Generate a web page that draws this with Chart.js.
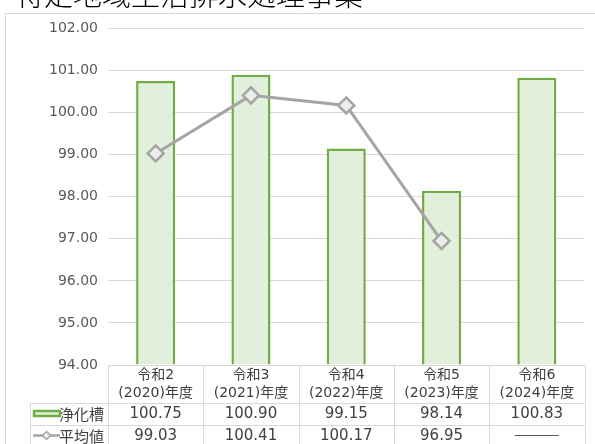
<!DOCTYPE html>
<html lang="ja">
<head>
<meta charset="utf-8">
<script src="https://cdn.jsdelivr.net/npm/chart.js@4"></script>
<style>
  html, body { margin: 0; padding: 0; background: #fff; }
  #wrap { position: relative; width: 595px; height: 444px; }
</style>
</head>
<body>
<div id="wrap"><canvas id="chart" width="595" height="444"></canvas></div>
<script>
// データ
const titleText = '特定地域生活排水処理事業';
const categories = [['令和2', '(2020)年度'], ['令和3', '(2021)年度'], ['令和4', '(2022)年度'], ['令和5', '(2023)年度'], ['令和6', '(2024)年度']];
const seriesNames = ['浄化槽', '平均値'];
const johkasoValues = [100.75, 100.90, 99.15, 98.14, 100.83];
const averageValues = [99.03, 100.41, 100.17, 96.95, null];
const yTicks = [94, 95, 96, 97, 98, 99, 100, 101, 102];

const FONT = '"DejaVu Sans", "Noto Sans CJK JP", sans-serif';
const CJK = '"Noto Sans CJK JP", sans-serif';
const GREEN = '#70ad47';
const GREEN_FILL = '#e2efda';
const GRAY = '#a5a5a5';
const GRID = '#d9d9d9';
const TEXT = '#404040';

// 枠線・タイトル・データテーブル
const tablePlugin = {
  id: 'dataTable',
  beforeDraw(chart) {
    const ctx = chart.ctx;
    ctx.save();
    ctx.strokeStyle = GRID;
    ctx.lineWidth = 1;
    ctx.beginPath();
    ctx.moveTo(5.5, 450);
    ctx.lineTo(5.5, 13.5);
    ctx.lineTo(600, 13.5);
    ctx.stroke();

    ctx.fillStyle = '#000';
    ctx.font = '300 29px ' + CJK;
    ctx.textAlign = 'left';
    ctx.textBaseline = 'ideographic';
    ctx.fillText(titleText, 15, 9);
    ctx.restore();
  },
  afterDraw(chart) {
    const ctx = chart.ctx;
    const area = chart.chartArea;
    const n = categories.length;
    const colW = (area.right - area.left) / n;
    const top = area.bottom;
    const row1 = 403, row2 = 425, bottom = 447, left = 30;

    ctx.save();
    ctx.strokeStyle = GRID;
    ctx.lineWidth = 1;
    ctx.beginPath();
    ctx.moveTo(area.left, top + 0.5); ctx.lineTo(area.right, top + 0.5);
    ctx.moveTo(left, row1 + 0.5); ctx.lineTo(area.right, row1 + 0.5);
    ctx.moveTo(left, row2 + 0.5); ctx.lineTo(area.right, row2 + 0.5);
    for (let i = 0; i <= n; i++) {
      const x = Math.round(area.left + i * colW) + 0.5;
      ctx.moveTo(x, top); ctx.lineTo(x, bottom);
    }
    ctx.moveTo(left + 0.5, row1); ctx.lineTo(left + 0.5, bottom);
    ctx.stroke();

    ctx.fillStyle = TEXT;
    ctx.textAlign = 'center';
    ctx.textBaseline = 'middle';
    const xs = chart.scales.x;
    categories.forEach((lines, i) => {
      const cx = xs.getPixelForValue(i);
      ctx.font = '14px ' + FONT;
      ctx.fillText(lines[0], cx, 375);
      ctx.fillText(lines[1], cx, 393);
      ctx.font = '15px ' + FONT;
      ctx.fillText(johkasoValues[i].toFixed(2), cx, 414);
      const v = averageValues[i];
      if (v === null) {
        ctx.save();
        ctx.strokeStyle = '#595959';
        ctx.lineWidth = 1;
        ctx.beginPath();
        ctx.moveTo(cx - 22, 435.5); ctx.lineTo(cx + 22, 435.5);
        ctx.stroke();
        ctx.restore();
      } else {
        ctx.fillText(v.toFixed(2), cx, 436);
      }
    });

    // 凡例キー
    ctx.textAlign = 'right';
    ctx.font = '15px ' + CJK;
    ctx.fillText(seriesNames[0], 104, 414);
    ctx.fillText(seriesNames[1], 104, 436);

    ctx.fillStyle = GREEN_FILL;
    ctx.strokeStyle = GREEN;
    ctx.lineWidth = 2.5;
    ctx.fillRect(34, 411, 26, 5);
    ctx.strokeRect(34, 411, 26, 5);

    ctx.strokeStyle = GRAY;
    ctx.lineWidth = 2.5;
    ctx.beginPath();
    ctx.moveTo(33, 435.5); ctx.lineTo(60, 435.5);
    ctx.stroke();
    ctx.fillStyle = '#ededed';
    ctx.lineWidth = 1.5;
    ctx.beginPath();
    ctx.moveTo(46.5, 431.5); ctx.lineTo(50.5, 435.5); ctx.lineTo(46.5, 439.5); ctx.lineTo(42.5, 435.5);
    ctx.closePath();
    ctx.fill(); ctx.stroke();
    ctx.restore();
  }
};

new Chart(document.getElementById('chart'), {
  data: {
    labels: categories.map(c => c.join('')),
    datasets: [
      {
        type: 'line',
        label: seriesNames[1],
        data: averageValues,
        borderColor: GRAY,
        borderWidth: 3,
        pointStyle: 'rectRot',
        pointRadius: 8,
        pointHoverRadius: 8,
        pointBackgroundColor: '#ededed',
        pointBorderColor: GRAY,
        pointBorderWidth: 2.5,
        spanGaps: false,
        order: 0
      },
      {
        type: 'bar',
        label: seriesNames[0],
        data: johkasoValues,
        backgroundColor: GREEN_FILL,
        borderColor: GREEN,
        borderWidth: 2.5,
        borderSkipped: 'bottom',
        categoryPercentage: 1,
        barPercentage: 0.41,
        base: 94,
        order: 1
      }
    ]
  },
  options: {
    responsive: false,
    animation: false,
    layout: { padding: { top: 28.5, bottom: 79, right: 10, left: 0 } },
    plugins: {
      legend: { display: false },
      tooltip: { enabled: false }
    },
    scales: {
      x: {
        display: false,
        offset: true
      },
      y: {
        min: yTicks[0],
        max: yTicks[yTicks.length - 1],
        afterFit(scale) { scale.width = 108; },
        afterBuildTicks(scale) { scale.ticks = yTicks.map(v => ({ value: v })); },
        border: { display: false },
        grid: { color: GRID, lineWidth: 1, drawTicks: false },
        ticks: {
          padding: 10,
          color: '#595959',
          font: { family: FONT, size: 14 },
          callback: v => v.toFixed(2)
        }
      }
    }
  },
  plugins: [tablePlugin]
});
</script>
</body>
</html>
